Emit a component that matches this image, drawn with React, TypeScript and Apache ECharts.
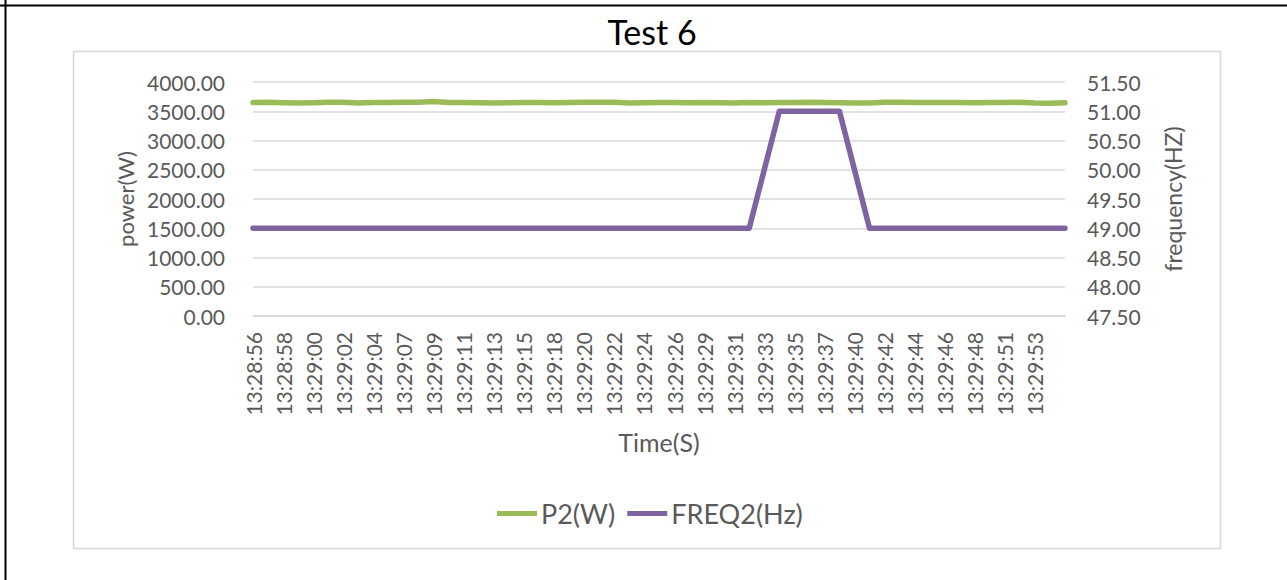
import React, { useEffect, useRef } from "react";
import * as echarts from "echarts";

const times: string[] = [
  "13:28:56", "13:28:57", "13:28:58", "13:28:59", "13:29:00", "13:29:01", "13:29:02", "13:29:03",
  "13:29:04", "13:29:05", "13:29:07", "13:29:08", "13:29:09", "13:29:10", "13:29:11", "13:29:12",
  "13:29:13", "13:29:14", "13:29:15", "13:29:16", "13:29:18", "13:29:19", "13:29:20", "13:29:21",
  "13:29:22", "13:29:23", "13:29:24", "13:29:25", "13:29:26", "13:29:27", "13:29:29", "13:29:30",
  "13:29:31", "13:29:32", "13:29:33", "13:29:34", "13:29:35", "13:29:36", "13:29:37", "13:29:38",
  "13:29:40", "13:29:41", "13:29:42", "13:29:43", "13:29:44", "13:29:45", "13:29:46", "13:29:47",
  "13:29:48", "13:29:49", "13:29:51", "13:29:52", "13:29:53", "13:29:54", "13:29:55",
];

const p2W: number[] = [
  3650, 3652, 3645, 3640, 3645, 3652, 3652, 3640, 3648, 3650,
  3652, 3655, 3665, 3650, 3648, 3645, 3640, 3645, 3648, 3648,
  3645, 3650, 3652, 3655, 3652, 3640, 3645, 3648, 3648, 3645,
  3648, 3645, 3640, 3650, 3645, 3648, 3650, 3655, 3648, 3645,
  3640, 3642, 3652, 3655, 3650, 3648, 3650, 3648, 3645, 3648,
  3650, 3652, 3640, 3638, 3645,
];

const freq2Hz: number[] = [
  49, 49, 49, 49, 49, 49, 49, 49, 49, 49,
  49, 49, 49, 49, 49, 49, 49, 49, 49, 49,
  49, 49, 49, 49, 49, 49, 49, 49, 49, 49,
  49, 49, 49, 49, 50, 51, 51, 51, 51, 51,
  50, 49, 49, 49, 49, 49, 49, 49, 49, 49,
  49, 49, 49, 49, 49,
];

const seriesNames: string[] = ["P2(W)", "FREQ2(Hz)"];
const FONT = "Lato";

export default function App() {
  const ref = useRef<HTMLDivElement>(null);
  useEffect(() => {
    if (!ref.current) return;
    const chart = echarts.init(ref.current, null, { renderer: "svg" });
    const axisText = { color: "#595959", fontFamily: FONT, fontSize: 21 };
    chart.setOption({
      animation: false,
      backgroundColor: "#ffffff",
      title: {
        text: "Test 6",
        left: 647,
        top: 9,
        textAlign: "center",
        textStyle: { color: "#000000", fontFamily: FONT, fontSize: 34, fontWeight: "normal" },
      },
      graphic: [
        { type: "line", shape: { x1: 5.5, y1: 0, x2: 5.5, y2: 580 }, style: { stroke: "#000", lineWidth: 2 } },
        { type: "line", shape: { x1: 0, y1: 5.5, x2: 1287, y2: 5.5 }, style: { stroke: "#000", lineWidth: 2 } },
        {
          type: "rect",
          shape: { x: 73.5, y: 51.5, width: 1147, height: 497 },
          style: { fill: "none", stroke: "#d9d9d9", lineWidth: 1.5 },
          z: -1,
        },
      ],
      legend: {
        data: seriesNames,
        left: 492,
        top: 495,
        icon: "rect",
        itemWidth: 40,
        itemHeight: 5,
        itemGap: 12,
        textStyle: { color: "#595959", fontFamily: FONT, fontSize: 27, padding: [0, 0, 0, -1] },
      },
      grid: { left: 253, top: 82, width: 812, height: 234, containLabel: false },
      xAxis: {
        type: "category",
        data: times,
        boundaryGap: false,
        name: "Time(S)",
        nameLocation: "middle",
        nameGap: 113,
        nameTextStyle: { color: "#595959", fontFamily: FONT, fontSize: 25 },
        axisLine: { show: true, lineStyle: { color: "#d9d9d9", width: 1.5 } },
        axisTick: { show: false },
        axisLabel: {
          ...axisText,
          rotate: 90,
          margin: 16,
          interval: (idx: number) => idx % 2 === 0 && idx < times.length - 1,
        },
      },
      yAxis: [
        {
          type: "value",
          min: 0,
          max: 4000,
          interval: 500,
          name: "power(W)",
          nameLocation: "middle",
          nameRotate: 90,
          nameGap: 116,
          nameTextStyle: { color: "#595959", fontFamily: FONT, fontSize: 22 },
          axisLine: { show: false },
          axisTick: { show: false },
          axisLabel: { ...axisText, margin: 28, formatter: (v: number) => v.toFixed(2) },
          splitLine: { lineStyle: { color: "#d9d9d9", width: 1.5 } },
        },
        {
          type: "value",
          min: 47.5,
          max: 51.5,
          interval: 0.5,
          name: "frequency(HZ)",
          nameLocation: "middle",
          nameRotate: 90,
          nameGap: 96,
          nameTextStyle: { color: "#595959", fontFamily: FONT, fontSize: 23 },
          axisLine: { show: false },
          axisTick: { show: false },
          axisLabel: { ...axisText, margin: 22, formatter: (v: number) => v.toFixed(2) },
          splitLine: { show: false },
        },
      ],
      series: [
        {
          name: seriesNames[0],
          type: "line",
          data: p2W,
          yAxisIndex: 0,
          showSymbol: false,
          symbol: "none",
          itemStyle: { color: "#9BBB59" },
          lineStyle: { color: "#9BBB59", width: 5.5, cap: "round", join: "round" },
        },
        {
          name: seriesNames[1],
          type: "line",
          data: freq2Hz,
          yAxisIndex: 1,
          showSymbol: false,
          symbol: "none",
          itemStyle: { color: "#8064A2" },
          lineStyle: { color: "#8064A2", width: 5.5, cap: "round", join: "round" },
        },
      ],
    });
    return () => chart.dispose();
  }, []);
  return (
    <div
      ref={ref}
      style={{ position: "fixed", left: 0, top: 0, width: 1287, height: 580 }}
    />
  );
}
